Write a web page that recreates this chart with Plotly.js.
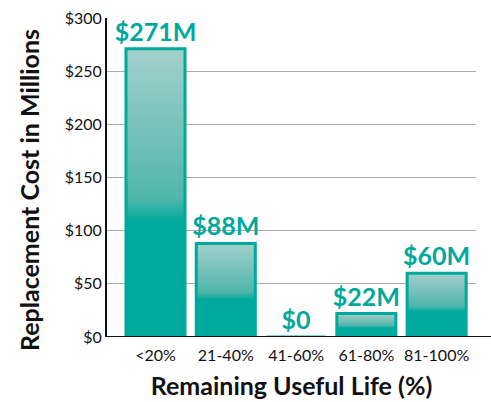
<!DOCTYPE html>
<html>
<head>
<meta charset="utf-8">
<script src="https://cdn.plot.ly/plotly-3.0.1.min.js"></script>
<style>html,body{margin:0;padding:0;background:#fff;}</style>
</head>
<body>
<div id="chart" style="width:491px;height:402px;"></div>
<script>
const categories = ["<20%", "21-40%", "41-60%", "61-80%", "81-100%"];
const costs = [271, 88, 0, 22, 60];
const yTickVals = [0, 50, 100, 150, 200, 250, 300];
const yTickText = ["$0", "$50", "$100", "$150", "$200", "$250", "$300"];
const labels = costs.map(v => v === 0 ? "$0" : "$" + v + "M");

const TEAL = "#00a99d";
const FONT = "Lato, 'Open Sans', sans-serif";

const trace = {
  type: "bar",
  x: categories,
  y: costs,
  text: labels,
  textposition: "outside",
  constraintext: "none",
  cliponaxis: false,
  textfont: {family: FONT, size: 25, color: TEAL, weight: 700},
  marker: {color: TEAL, line: {color: TEAL, width: 3}},
  width: 0.84,
  hoverinfo: "none"
};

const plotW = 369, plotH = 319;
const layout = {
  width: 491, height: 402,
  margin: {l: 107, r: 15, t: 18, b: 65},
  paper_bgcolor: "#fff", plot_bgcolor: "#fff",
  font: {family: FONT, color: "#111"},
  showlegend: false,
  xaxis: {
    type: "category",
    range: [-0.69, 4.56],
    showline: false, showgrid: false, zeroline: false,
    ticks: "", ticklabelstandoff: 7,
    tickfont: {size: 16, color: "#111"},
    title: {text: "Remaining Useful Life (%)", font: {size: 25, weight: 700, color: "#111"}, standoff: 14}
  },
  yaxis: {
    range: [0, 300],
    tickvals: yTickVals, ticktext: yTickText,
    showline: true, linecolor: "#111", linewidth: 2,
    showgrid: true, gridcolor: "#aaaaaa", gridwidth: 1,
    zeroline: false, ticks: "",
    tickfont: {size: 16, color: "#111"}
  },
  annotations: [{
    text: "Replacement Cost in Millions",
    xref: "paper", yref: "paper",
    x: (29 - 107) / plotW, y: (337 - 190) / plotH,
    xanchor: "center", yanchor: "middle",
    textangle: -90, showarrow: false,
    font: {family: FONT, size: 25, weight: 700, color: "#111"}
  }],
  shapes: [{
    type: "line", xref: "paper", yref: "y",
    x0: 0, x1: 1 + 15 / plotW, y0: 0, y1: 0,
    line: {color: "#111", width: 2}, layer: "above"
  }]
};

Plotly.newPlot("chart", [trace], layout, {displayModeBar: false, staticPlot: true}).then(() => {
  const svg = document.querySelector("#chart .main-svg");
  let defs = svg.querySelector("defs");
  if (!defs) { defs = document.createElementNS("http://www.w3.org/2000/svg", "defs"); svg.prepend(defs); }
  const ns = "http://www.w3.org/2000/svg";
  const g = document.createElementNS(ns, "linearGradient");
  g.setAttribute("id", "barGrad");
  g.setAttribute("x1", "0"); g.setAttribute("y1", "0");
  g.setAttribute("x2", "0"); g.setAttribute("y2", "1");
  const stops = [[0, "#a3d0cb"], [0.52, "#4fb6ac"], [0.6, TEAL], [1, TEAL]];
  stops.forEach(([o, c]) => {
    const s = document.createElementNS(ns, "stop");
    s.setAttribute("offset", o); s.setAttribute("stop-color", c);
    g.appendChild(s);
  });
  defs.appendChild(g);
  document.querySelectorAll("#chart .bars .point path").forEach(p => {
    p.style.fill = "url(#barGrad)";
  });
});
</script>
</body>
</html>
